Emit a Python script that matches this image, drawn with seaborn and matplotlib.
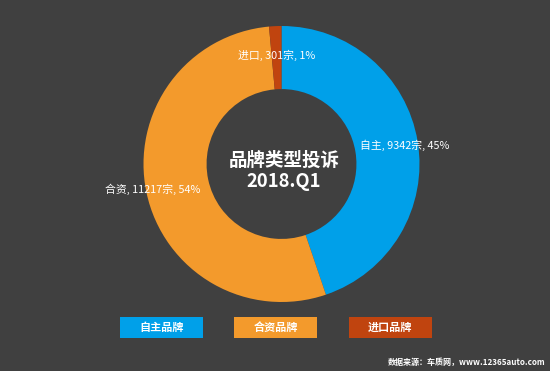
import numpy as np
import matplotlib
matplotlib.use("Agg")
import matplotlib.pyplot as plt
import seaborn as sns
from matplotlib.patches import Rectangle

# ---- data ----
categories = ["自主", "合资", "进口"]
legend_labels = ["自主品牌", "合资品牌", "进口品牌"]
counts = [9342, 11217, 301]
percents = [45, 54, 1]
title_lines = ["品牌类型投诉", "2018.Q1"]
source_text = "数据来源：车质网，www.12365auto.com"

colors = ["#00a0e9", "#f39a2c", "#c0440f"]
bg = "#404040"

sns.set_theme(style="white")
plt.rcParams['font.family'] = ['Noto Sans CJK SC', 'DejaVu Sans']

W, H, DPI = 550, 371, 100
fig = plt.figure(figsize=(W / DPI, H / DPI), dpi=DPI, facecolor=bg)
ax = fig.add_axes([0, 0, 1, 1])
ax.set_facecolor(bg)

wedges, _ = ax.pie(counts, colors=colors, startangle=90, counterclock=False,
                   radius=1.0, wedgeprops=dict(width=0.457, edgecolor='none'))

# geometry: center (281.5,164) px, radius 138 px
cx, cy, R = 281.5, 164, 138
ax.set_xlim(-cx / R, (W - cx) / R)
ax.set_ylim(-(H - cy) / R, cy / R)
ax.set_aspect('auto')
ax.axis('off')

# labels (offsets in pixels from mid-ring point)
offsets = [(18, 1), (-25, -3), (0, 2)]
for w, cat, n, p, (ox, oy) in zip(wedges, categories, counts, percents, offsets):
    ang = np.deg2rad((w.theta1 + w.theta2) / 2)
    r = 1.0 - 0.457 / 2
    ax.annotate(f"{cat}, {n}宗, {p}%", xy=(r * np.cos(ang), r * np.sin(ang)),
                xytext=(ox, oy), textcoords='offset pixels', ha='center', va='center',
                color='white', fontsize=7.8)

# center title
ax.text(0.02, 0.03, title_lines[0], ha='center', va='center', color='white',
        fontsize=13.3, fontweight='bold')
ax.text(0.015, -0.13, title_lines[1], ha='center', va='center', color='white',
        fontsize=13.3, fontweight='bold')

# legend boxes
box_w, box_h = 83 / W, 21 / H
centers_x = [161.5 / W, 275.5 / W, 390.5 / W]
cy_leg = 1 - 327.5 / H
for lab, col, x in zip(legend_labels, colors, centers_x):
    fig.patches.append(Rectangle((x - box_w / 2, cy_leg - box_h / 2), box_w, box_h,
                                 transform=fig.transFigure, facecolor=col,
                                 edgecolor='none'))
    fig.text(x, cy_leg, lab, ha='center', va='center', color='white',
             fontsize=8, fontweight='bold')

fig.text(545 / W, 1 - 362 / H, source_text, ha='right', va='center',
         color='white', fontsize=5.8, fontweight='bold')

fig.savefig("out.png", dpi=DPI, facecolor=bg)
